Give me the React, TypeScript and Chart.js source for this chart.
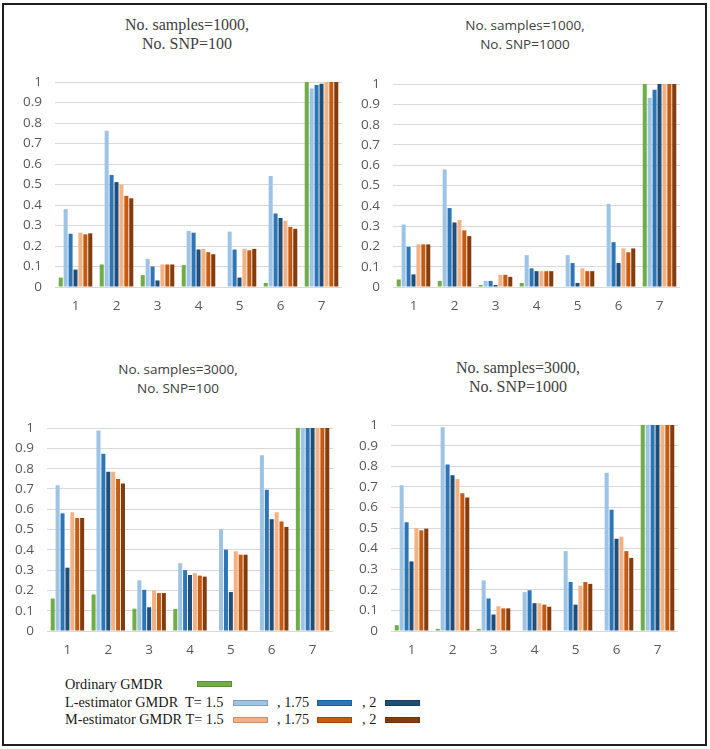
import React, { useEffect, useRef } from 'react';
import { Chart, registerables } from 'chart.js';

Chart.register(...registerables);

// ---------- data ----------
const categories = ['1', '2', '3', '4', '5', '6', '7'];
const yTickLabels = ['0', '0.1', '0.2', '0.3', '0.4', '0.5', '0.6', '0.7', '0.8', '0.9', '1'];
const seriesNames = [
  'Ordinary GMDR',
  'L-estimator GMDR T=1.5',
  'L-estimator GMDR T=1.75',
  'L-estimator GMDR T=2',
  'M-estimator GMDR T=1.5',
  'M-estimator GMDR T=1.75',
  'M-estimator GMDR T=2',
];
const seriesColors = ['#70AD47', '#9DC3E6', '#2E75B6', '#1F4E79', '#F4B183', '#C55A11', '#843C0C'];

// Panel A: No. samples=1000, No. SNP=100
const aOrdinary = [0.046, 0.11, 0.058, 0.107, 0, 0.02, 1];
const aL150 = [0.38, 0.763, 0.137, 0.274, 0.27, 0.542, 0.969];
const aL175 = [0.26, 0.547, 0.1, 0.265, 0.183, 0.359, 0.986];
const aL200 = [0.085, 0.512, 0.032, 0.183, 0.046, 0.337, 0.992];
const aM150 = [0.265, 0.5, 0.11, 0.186, 0.186, 0.323, 1];
const aM175 = [0.257, 0.445, 0.11, 0.17, 0.179, 0.293, 1];
const aM200 = [0.262, 0.433, 0.11, 0.16, 0.186, 0.284, 1];

// Panel B: No. samples=1000, No. SNP=1000
const bOrdinary = [0.037, 0.03, 0.01, 0.02, 0, 0, 1];
const bL150 = [0.308, 0.579, 0.03, 0.157, 0.157, 0.41, 0.933];
const bL175 = [0.198, 0.389, 0.03, 0.092, 0.118, 0.221, 0.972];
const bL200 = [0.062, 0.318, 0.01, 0.078, 0.02, 0.118, 1];
const bM150 = [0.21, 0.33, 0.06, 0.078, 0.092, 0.19, 1];
const bM175 = [0.21, 0.279, 0.06, 0.078, 0.078, 0.171, 1];
const bM200 = [0.21, 0.251, 0.05, 0.078, 0.078, 0.19, 1];

// Panel C: No. samples=3000, No. SNP=100
const cOrdinary = [0.16, 0.18, 0.11, 0.108, 0, 0, 1];
const cL150 = [0.718, 0.988, 0.25, 0.334, 0.502, 0.866, 1];
const cL175 = [0.58, 0.874, 0.203, 0.3, 0.401, 0.696, 1];
const cL200 = [0.312, 0.785, 0.117, 0.276, 0.192, 0.551, 1];
const cM150 = [0.585, 0.785, 0.2, 0.285, 0.393, 0.585, 1];
const cM175 = [0.557, 0.749, 0.187, 0.273, 0.376, 0.54, 1];
const cM200 = [0.557, 0.727, 0.187, 0.268, 0.376, 0.513, 1];

// Panel D: No. samples=3000, No. SNP=1000
const dOrdinary = [0.028, 0.01, 0.01, 0, 0, 0, 1];
const dL150 = [0.708, 0.989, 0.246, 0.189, 0.388, 0.769, 1];
const dL175 = [0.528, 0.809, 0.158, 0.198, 0.238, 0.589, 1];
const dL200 = [0.338, 0.757, 0.08, 0.135, 0.128, 0.448, 1];
const dM150 = [0.5, 0.738, 0.12, 0.135, 0.22, 0.458, 1];
const dM175 = [0.489, 0.669, 0.11, 0.128, 0.238, 0.388, 1];
const dM200 = [0.497, 0.648, 0.11, 0.118, 0.229, 0.355, 1];

const titleA = ['No. samples=1000,', 'No. SNP=100'];
const titleB = ['No. samples=1000,', 'No. SNP=1000'];
const titleC = ['No. samples=3000,', 'No. SNP=100'];
const titleD = ['No. samples=3000,', 'No. SNP=1000'];

// ---------- components ----------
type Geo = { L: number; R: number; T: number; B: number };

const SERIF = '"Liberation Serif", "Times New Roman", serif';
const SANS = '"Open Sans", "DejaVu Sans", sans-serif';

function Panel(props: { series: number[][]; geo: Geo }) {
  const ref = useRef<HTMLCanvasElement | null>(null);
  const { L, R, T, B } = props.geo;
  const left = L - 50;
  const top = T - 10;
  const width = R - L + 60;
  const height = B - T + 45;
  useEffect(() => {
    if (!ref.current) return;
    const tickFont = { family: SANS, size: 13.5 };
    const chart = new Chart(ref.current, {
      type: 'bar',
      data: {
        labels: categories,
        datasets: props.series.map((d, i) => ({
          label: seriesNames[i],
          data: d,
          backgroundColor: seriesColors[i],
          borderWidth: 0,
          categoryPercentage: 0.84,
          barPercentage: 0.82,
        })),
      },
      options: {
        responsive: false,
        animation: false,
        devicePixelRatio: 1,
        layout: { padding: { left: 5, top: 10, right: 10, bottom: 5 } },
        plugins: {
          legend: { display: false },
          tooltip: { enabled: false },
          title: { display: false },
        },
        scales: {
          x: {
            grid: { display: false, drawTicks: false },
            border: { display: false },
            ticks: { padding: 11, font: tickFont, color: '#595959' },
            afterFit: (s: any) => {
              s.height = 30;
            },
          },
          y: {
            min: 0,
            max: 1,
            ticks: {
              stepSize: 0.1,
              padding: 13,
              font: tickFont,
              color: '#595959',
              callback: (_v: any, i: number) => yTickLabels[i],
            },
            grid: { color: '#D9D9D9', drawTicks: false, lineWidth: 1 },
            border: { display: false },
            afterFit: (s: any) => {
              s.width = 45;
            },
          },
        },
      } as any,
    });
    return () => chart.destroy();
  }, []);
  return (
    <canvas
      ref={ref}
      width={width}
      height={height}
      style={{ position: 'absolute', left, top, width, height }}
    />
  );
}

function Title(props: { lines: string[]; cx: number; cy: number; font: string; size: number }) {
  return (
    <div
      style={{
        position: 'absolute',
        left: props.cx - 120,
        top: props.cy - 9,
        width: 240,
        textAlign: 'center',
        fontFamily: props.font,
        fontSize: props.size,
        lineHeight: '18.5px',
        color: '#404040',
        whiteSpace: 'nowrap',
      }}
    >
      {props.lines.map((l, i) => (
        <div key={i}>{l}</div>
      ))}
    </div>
  );
}

function Swatch(props: { x: number; y: number; color: string }) {
  return (
    <div
      style={{
        position: 'absolute',
        left: props.x,
        top: props.y - 3,
        width: 35,
        height: 6,
        background: props.color,
        boxSizing: 'border-box',
        border: '1px solid rgba(0,0,0,0.18)',
      }}
    />
  );
}

function LegendText(props: { x: number; y: number; text: string }) {
  return (
    <div
      style={{
        position: 'absolute',
        left: props.x,
        top: props.y - 9,
        height: 18,
        lineHeight: '18px',
        fontFamily: SERIF,
        fontSize: 14.3,
        color: '#1a1a1a',
        whiteSpace: 'pre',
      }}
    >
      {props.text}
    </div>
  );
}

export default function App() {
  return (
    <div
      style={{
        position: 'fixed',
        left: 0,
        top: 0,
        width: 710,
        height: 749,
        background: '#ffffff',
        overflow: 'hidden',
      }}
    >
      <div
        style={{
          position: 'absolute',
          left: 2,
          top: 3,
          width: 705,
          height: 743,
          border: '2px solid #1e1e1e',
          boxSizing: 'border-box',
        }}
      />
      <Title lines={titleA} cx={187} cy={25} font={SERIF} size={16} />
      <Title lines={titleB} cx={525} cy={25} font={SANS} size={13.5} />
      <Title lines={titleC} cx={178} cy={369} font={SANS} size={13.5} />
      <Title lines={titleD} cx={518} cy={368} font={SERIF} size={16} />

      <Panel series={[aOrdinary, aL150, aL175, aL200, aM150, aM175, aM200]} geo={{ L: 55, R: 342, T: 71, B: 287 }} />
      <Panel series={[bOrdinary, bL150, bL175, bL200, bM150, bM175, bM200]} geo={{ L: 393, R: 680, T: 73, B: 287 }} />
      <Panel series={[cOrdinary, cL150, cL175, cL200, cM150, cM175, cM200]} geo={{ L: 47, R: 333, T: 417, B: 631 }} />
      <Panel series={[dOrdinary, dL150, dL175, dL200, dM150, dM175, dM200]} geo={{ L: 391, R: 678, T: 414, B: 631 }} />

      <LegendText x={65} y={684} text="Ordinary GMDR" />
      <Swatch x={197} y={684} color={seriesColors[0]} />

      <LegendText x={65} y={702} text="L-estimator GMDR  T= 1.5" />
      <Swatch x={233} y={703} color={seriesColors[1]} />
      <LegendText x={277} y={702} text=", 1.75" />
      <Swatch x={317} y={703} color={seriesColors[2]} />
      <LegendText x={362} y={702} text=", 2" />
      <Swatch x={385} y={703} color={seriesColors[3]} />

      <LegendText x={65} y={719} text="M-estimator GMDR T= 1.5" />
      <Swatch x={233} y={720} color={seriesColors[4]} />
      <LegendText x={277} y={719} text=", 1.75" />
      <Swatch x={317} y={720} color={seriesColors[5]} />
      <LegendText x={362} y={719} text=", 2" />
      <Swatch x={385} y={720} color={seriesColors[6]} />
    </div>
  );
}
